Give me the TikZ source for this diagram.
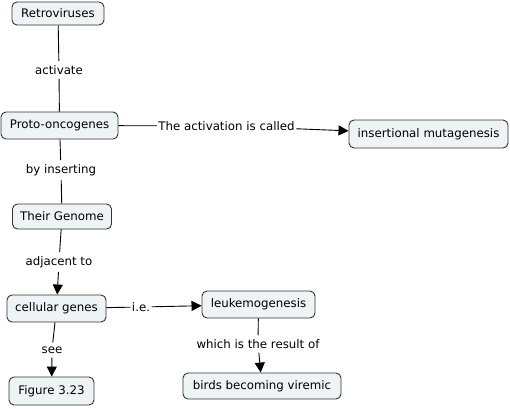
\documentclass[tikz,border=0pt]{standalone}
\usepackage{fontspec}
\setmainfont{DejaVu Sans}
\usetikzlibrary{arrows.meta}
\definecolor{boxfill}{HTML}{EEF3F5}
\definecolor{boxline}{HTML}{333333}
\tikzset{
  concept/.style={draw=boxline, line width=0.9pt, fill=boxfill, rounded corners=5pt, inner sep=0pt, align=center},
  linklabel/.style={inner xsep=1.5pt, inner ysep=4pt, fill=white},
  conn/.style={draw=black, line width=0.9pt},
  arr/.style={conn, -{Triangle[length=10pt,width=10pt]}},
}
\begin{document}
\begin{tikzpicture}[x=1pt,y=-1pt,font=\fontsize{11.8}{14}\selectfont]
\path[use as bounding box, fill=white] (0,0) rectangle (510,408);
% concepts
\node[concept, minimum width=92pt, minimum height=23pt] (ret) at (58,13.5) {Retroviruses};
\node[concept, minimum width=117pt, minimum height=27pt] (proto) at (59.5,125.5) {Proto-oncogenes};
\node[concept, minimum width=99pt, minimum height=25pt] (genome) at (62,216.5) {Their Genome};
\node[concept, minimum width=99pt, minimum height=27pt] (cell) at (56.5,308.5) {cellular genes};
\node[concept, minimum width=85pt, minimum height=28pt] (fig) at (51.5,391) {Figure 3.23};
\node[concept, minimum width=113pt, minimum height=27pt] (leuk) at (258.5,304.5) {leukemogenesis};
\node[concept, minimum width=158pt, minimum height=26pt] (birds) at (262,386) {birds becoming viremic};
\node[concept, minimum width=159pt, minimum height=28pt] (ins) at (428.5,134) {insertional mutagenesis};
% link labels
\node[linklabel] (l1) at (59,70) {activate};
\node[linklabel] (l2) at (61,170) {by inserting};
\node[linklabel] (l3) at (59,262) {adjacent to};
\node[linklabel] (l4) at (52,350) {see};
\node[linklabel] (l5) at (141,307) {i.e.};
\node[linklabel] (l6) at (258,344) {which is the result of};
\node[linklabel] (l7) at (226.5,126) {The activation is called};
% connectors
\draw[conn] (ret) -- (l1);
\draw[conn] (l1) -- (proto);
\draw[conn] (proto) -- (l2);
\draw[conn] (l2) -- (genome);
\draw[conn] (genome) -- (l3);
\draw[arr] (l3) -- (cell);
\draw[conn] (cell) -- (l4);
\draw[arr] (l4) -- (fig);
\draw[conn] (cell) -- (l5);
\draw[arr] (l5) -- (leuk);
\draw[conn] (leuk) -- (l6);
\draw[arr] (l6) -- (birds);
\draw[conn] (proto) -- (l7);
\draw[arr] (l7) -- (ins);
\end{tikzpicture}
\end{document}
